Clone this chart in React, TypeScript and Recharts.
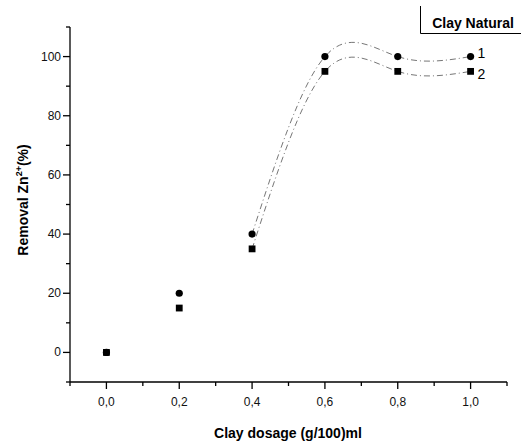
import { ComposedChart, Line, Scatter, XAxis, YAxis } from 'recharts';

const dosage = [0, 0.2, 0.4, 0.6, 0.8, 1.0];
const removal1 = [0, 20, 40, 100, 100, 100];
const removal2 = [0, 15, 35, 95, 95, 95];
// fitted curve is only drawn from 0.4 on
const curveStart = 2;
const seriesTags = ['1', '2'];
const legendTitle = 'Clay Natural';

const xTicks = [-0.1, 0, 0.1, 0.2, 0.3, 0.4, 0.5, 0.6, 0.7, 0.8, 0.9, 1.0, 1.1];
const yTicks = [-10, 0, 10, 20, 30, 40, 50, 60, 70, 80, 90, 100, 110];

const data = dosage.map((x, i) => ({
  x,
  s1: removal1[i],
  s2: removal2[i],
  c1: i >= curveStart ? removal1[i] : null,
  c2: i >= curveStart ? removal2[i] : null,
  tag1: i === dosage.length - 1 ? seriesTags[0] : '',
  tag2: i === dosage.length - 1 ? seriesTags[1] : '',
}));

const FONT = '"Liberation Sans", Arial, sans-serif';

const XTick = (props: any) => {
  const { x, y, payload } = props;
  const v = payload.value;
  const k = Math.round(v * 10);
  const major = k % 2 === 0 && k >= 0 && k <= 10;
  return (
    <g>
      <line x1={x} x2={x} y1={y} y2={y + (major ? 7 : 4)} stroke="#000" strokeWidth={1.3} />
      {major && (
        <text x={x} y={y + 24} textAnchor="middle" fontSize={12} fontFamily={FONT} fill="#111">
          {v.toFixed(1).replace('.', ',')}
        </text>
      )}
    </g>
  );
};

const YTick = (props: any) => {
  const { x, y, payload } = props;
  const v = payload.value;
  const major = v % 20 === 0 && v >= 0 && v <= 100;
  return (
    <g>
      <line x1={x} x2={x - (major ? 7 : 4)} y1={y} y2={y} stroke="#000" strokeWidth={1.3} />
      {major && (
        <text x={x - 9} y={y + 4} textAnchor="end" fontSize={12} fontFamily={FONT} fill="#111">
          {v}
        </text>
      )}
    </g>
  );
};

const Dot1 = (props: any) => {
  const { cx, cy, payload } = props;
  return (
    <g>
      <circle cx={cx} cy={cy} r={3.6} fill="#000" />
      {payload.tag1 && (
        <text x={cx + 7} y={cy + 1.5} fontSize={14} fontFamily={FONT} fill="#000">
          {payload.tag1}
        </text>
      )}
    </g>
  );
};

const Square2 = (props: any) => {
  const { cx, cy, payload } = props;
  return (
    <g>
      <rect x={cx - 3.4} y={cy - 3.4} width={6.8} height={6.8} fill="#000" />
      {payload.tag2 && (
        <text x={cx + 7} y={cy + 8} fontSize={14} fontFamily={FONT} fill="#000">
          {payload.tag2}
        </text>
      )}
    </g>
  );
};

export default function App() {
  return (
    <div style={{ position: 'absolute', left: 0, top: 0, width: 521, height: 444, background: '#fff' }}>
      <ComposedChart
        width={521}
        height={444}
        data={data}
        margin={{ top: 27, right: 14, left: 10, bottom: 32 }}
      >
        <XAxis
          dataKey="x"
          type="number"
          domain={[-0.1, 1.1]}
          ticks={xTicks}
          interval={0}
          height={30}
          tickSize={0}
          tickMargin={0}
          tickLine={false}
          axisLine={{ stroke: '#000', strokeWidth: 1.3 }}
          tick={<XTick />}
        />
        <YAxis
          type="number"
          domain={[-10, 110]}
          ticks={yTicks}
          interval={0}
          width={60}
          tickSize={0}
          tickMargin={0}
          tickLine={false}
          axisLine={{ stroke: '#000', strokeWidth: 1.3 }}
          tick={<YTick />}
        />
        <Line
          dataKey="c1"
          type="natural"
          stroke="#666"
          strokeWidth={0.9}
          strokeDasharray="6 3 1 3"
          dot={false}
          activeDot={false}
          isAnimationActive={false}
        />
        <Line
          dataKey="c2"
          type="natural"
          stroke="#666"
          strokeWidth={0.9}
          strokeDasharray="6 3 1 3"
          dot={false}
          activeDot={false}
          isAnimationActive={false}
        />
        <Scatter dataKey="s2" shape={<Square2 />} isAnimationActive={false} />
        <Scatter dataKey="s1" shape={<Dot1 />} isAnimationActive={false} />
      </ComposedChart>
      <svg
        width={521}
        height={444}
        style={{ position: 'absolute', left: 0, top: 0, pointerEvents: 'none' }}
      >
        <text
          transform="translate(28,200) rotate(-90)"
          textAnchor="middle"
          fontSize={14}
          fontWeight="bold"
          fontFamily={FONT}
          fill="#000"
        >
          Removal Zn<tspan fontSize={9} dy={-6}>2+</tspan>
          <tspan dy={6}>(%)</tspan>
        </text>
        <text x={288} y={438} textAnchor="middle" fontSize={14} fontWeight="bold" fontFamily={FONT} fill="#000">
          Clay dosage (g/100)ml
        </text>
        <polyline points="420.5,6 420.5,33.5 521,33.5" fill="none" stroke="#000" strokeWidth={1} />
        <text x={473} y={28} textAnchor="middle" fontSize={14} fontWeight="bold" fontFamily={FONT} fill="#000">
          {legendTitle}
        </text>
      </svg>
    </div>
  );
}
